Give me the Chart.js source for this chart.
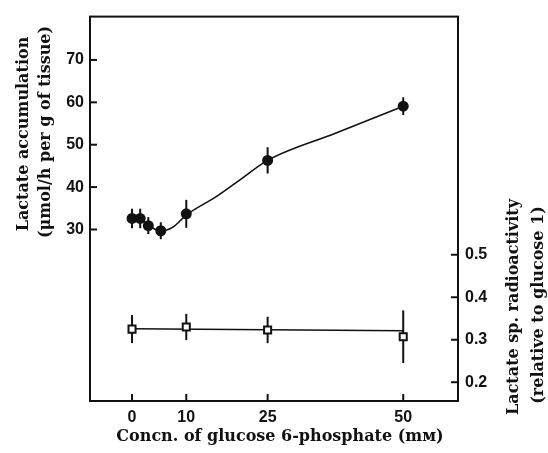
<!DOCTYPE html>
<html>
<head>
<meta charset="utf-8">
<script src="https://cdn.jsdelivr.net/npm/chart.js@4.4.0/dist/chart.umd.min.js"></script>
<style>
  html, body { margin: 0; padding: 0; background: #fff; }
  #wrap { width: 548px; height: 453px; }
</style>
</head>
<body>
<div id="wrap"><canvas id="myChart" width="548" height="453"></canvas></div>
<script>
// lactate accumulation (filled circles, left axis)
const circleX = [0, 1.5, 3, 5.3, 10, 25, 50];
const circleY = [32.6, 32.6, 30.9, 29.7, 33.7, 46.3, 59.1];
const circleErr = [2.3, 2.3, 2.0, 2.0, 3.3, 3.1, 2.1];

// smooth curve drawn through the circles
const curveX = [0, 1.5, 3, 5.3, 7.6, 10, 15.6, 19.9, 25, 37.5, 50];
const curveY = [32.6, 32.4, 31.0, 29.6, 30.6, 33.4, 37.8, 41.7, 46.3, 52.7, 59.1];

// lactate sp. radioactivity (open squares, right axis)
const squareX = [0, 10, 25, 50];
const squareY = [0.325, 0.330, 0.323, 0.307];
const squareErr = [0.033, 0.031, 0.031, 0.062];

// fitted line through the squares
const fitX = [0, 50];
const fitY = [0.326, 0.321];

// tick labels
const xTicks = [0, 10, 25, 50];
const leftTicks = [30, 40, 50, 60, 70];
const rightTicks = [0.2, 0.3, 0.4, 0.5];

const toPts = (xs, ys) => xs.map((x, i) => ({x: x, y: ys[i]}));

const tickFont = {family: 'Liberation Sans', size: 16, weight: 'bold'};
const titleFont = 'bold 16px "DejaVu Serif"';

const framePlugin = {
  id: 'frame',
  beforeDatasetsDraw(chart) {
    const ctx = chart.ctx;
    const sx = chart.scales.x, yl = chart.scales.y, yr = chart.scales.y2;
    ctx.save();
    ctx.strokeStyle = '#111';
    ctx.lineWidth = 2;
    // error bars
    circleX.forEach((x, i) => {
      const px = sx.getPixelForValue(x);
      ctx.beginPath();
      ctx.moveTo(px, yl.getPixelForValue(circleY[i] - circleErr[i]));
      ctx.lineTo(px, yl.getPixelForValue(circleY[i] + circleErr[i]));
      ctx.stroke();
    });
    squareX.forEach((x, i) => {
      const px = sx.getPixelForValue(x);
      ctx.beginPath();
      ctx.moveTo(px, yr.getPixelForValue(squareY[i] - squareErr[i]));
      ctx.lineTo(px, yr.getPixelForValue(squareY[i] + squareErr[i]));
      ctx.stroke();
    });
    ctx.restore();
  },
  afterDraw(chart) {
    const ctx = chart.ctx;
    const a = chart.chartArea;
    const sx = chart.scales.x, yl = chart.scales.y, yr = chart.scales.y2;
    ctx.save();
    ctx.strokeStyle = '#111';
    ctx.lineWidth = 2;
    ctx.strokeRect(a.left, a.top, a.right - a.left, a.bottom - a.top);
    // inward ticks
    xTicks.forEach(v => {
      const p = sx.getPixelForValue(v);
      ctx.beginPath(); ctx.moveTo(p, a.bottom); ctx.lineTo(p, a.bottom - 7); ctx.stroke();
    });
    leftTicks.forEach(v => {
      const p = yl.getPixelForValue(v);
      ctx.beginPath(); ctx.moveTo(a.left, p); ctx.lineTo(a.left + 7, p); ctx.stroke();
    });
    rightTicks.forEach(v => {
      const p = yr.getPixelForValue(v);
      ctx.beginPath(); ctx.moveTo(a.right, p); ctx.lineTo(a.right - 7, p); ctx.stroke();
    });

    // axis titles
    ctx.fillStyle = '#111';
    ctx.font = titleFont;
    ctx.textAlign = 'center';
    ctx.textBaseline = 'middle';
    ctx.fillText('Concn. of glucose 6-phosphate (m\u1D0D)', 280, 437);

    const vtext = (txt, x, y) => {
      ctx.save();
      ctx.translate(x, y);
      ctx.rotate(-Math.PI / 2);
      ctx.fillText(txt, 0, 0);
      ctx.restore();
    };
    vtext('Lactate accumulation', 24, 134);
    vtext('(\u03BCmol/h per g of tissue)', 46, 132);
    vtext('Lactate sp. radioactivity', 514, 307);
    vtext('(relative to glucose 1)', 539, 305);
    ctx.restore();
  }
};

const config = {
  type: 'scatter',
  data: {
    datasets: [
      {
        label: 'circles',
        data: toPts(circleX, circleY),
        yAxisID: 'y',
        pointStyle: 'circle',
        pointRadius: 5.5,
        backgroundColor: '#111',
        borderColor: '#111',
        borderWidth: 0,
        showLine: false
      },
      {
        label: 'squares',
        data: toPts(squareX, squareY),
        yAxisID: 'y2',
        pointStyle: 'rect',
        pointRadius: 5,
        backgroundColor: '#fff',
        borderColor: '#111',
        borderWidth: 2,
        showLine: false
      },
      {
        label: 'curve',
        data: toPts(curveX, curveY),
        yAxisID: 'y',
        showLine: true,
        pointRadius: 0,
        borderColor: '#111',
        borderWidth: 1.6,
        cubicInterpolationMode: 'monotone',
        fill: false
      },
      {
        label: 'fit',
        data: toPts(fitX, fitY),
        yAxisID: 'y2',
        showLine: true,
        pointRadius: 0,
        borderColor: '#111',
        borderWidth: 1.6,
        fill: false
      }
    ]
  },
  options: {
    responsive: false,
    animation: false,
    layout: {padding: {top: 11, left: 0, right: 0, bottom: 0}},
    plugins: {
      legend: {display: false},
      tooltip: {enabled: false}
    },
    scales: {
      x: {
        type: 'linear',
        min: -7.75,
        max: 60.1,
        afterBuildTicks: s => { s.ticks = xTicks.map(v => ({value: v})); },
        afterFit: s => { s.height = 52; },
        grid: {display: false, drawTicks: false},
        border: {display: false},
        ticks: {color: '#111', font: tickFont, padding: 7}
      },
      y: {
        position: 'left',
        min: -10.47,
        max: 80.23,
        afterBuildTicks: s => { s.ticks = leftTicks.map(v => ({value: v})); },
        afterFit: s => { s.width = 90; },
        grid: {display: false, drawTicks: false},
        border: {display: false},
        ticks: {color: '#111', font: tickFont, padding: 6}
      },
      y2: {
        position: 'right',
        min: 0.1558,
        max: 1.0605,
        afterBuildTicks: s => { s.ticks = rightTicks.map(v => ({value: v})); },
        afterFit: s => { s.width = 90; },
        grid: {display: false, drawTicks: false},
        border: {display: false},
        ticks: {color: '#111', font: tickFont, padding: 7, callback: v => v.toFixed(1)}
      }
    }
  },
  plugins: [framePlugin]
};

const myChart = new Chart(document.getElementById('myChart'), config);
</script>
</body>
</html>
